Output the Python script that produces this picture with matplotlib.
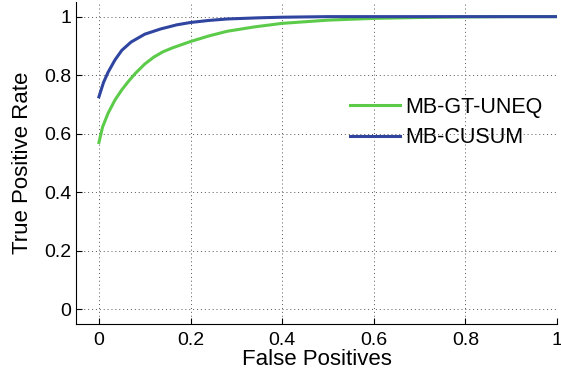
import matplotlib
matplotlib.use("Agg")
import matplotlib.pyplot as plt
import numpy as np

plt.rcParams['font.family'] = ['Liberation Sans', 'DejaVu Sans']

# Data
fp_green = [0.0, 0.008, 0.02, 0.035, 0.05, 0.065, 0.08, 0.1, 0.12, 0.14, 0.16, 0.2, 0.24, 0.28, 0.34, 0.4, 0.5, 0.6, 0.7, 0.8, 0.9, 1.0]
tpr_green = [0.57, 0.623, 0.67, 0.715, 0.75, 0.78, 0.807, 0.838, 0.862, 0.88, 0.893, 0.915, 0.934, 0.95, 0.965, 0.977, 0.988, 0.994, 0.997, 0.999, 1.0, 1.0]
fp_blue = [0.0, 0.01, 0.02, 0.035, 0.05, 0.07, 0.1, 0.135, 0.17, 0.2, 0.24, 0.28, 0.35, 0.4, 0.5, 0.6, 0.8, 1.0]
tpr_blue = [0.726, 0.775, 0.81, 0.852, 0.885, 0.913, 0.94, 0.958, 0.972, 0.98, 0.987, 0.992, 0.996, 0.998, 1.0, 1.0, 1.0, 1.0]
labels = ['MB-GT-UNEQ', 'MB-CUSUM']
xticks = [0, 0.2, 0.4, 0.6, 0.8, 1]
yticks = [0, 0.2, 0.4, 0.6, 0.8, 1]
ticklabels = ['0', '0.2', '0.4', '0.6', '0.8', '1']

fig = plt.figure(figsize=(5.61, 3.76), dpi=100)
ax = fig.add_axes([0.1355, 0.1383, 0.8574, 0.8564])

ax.plot(fp_green, tpr_green, color='#5ccb4a', lw=2.2, label=labels[0])
ax.plot(fp_blue, tpr_blue, color='#2f45a0', lw=2.2, label=labels[1])

ax.set_xlim(-0.05, 1.0)
ax.set_ylim(-0.05, 1.05)
ax.set_xticks(xticks)
ax.set_yticks(yticks)
ax.set_xticklabels(ticklabels)
ax.set_yticklabels(ticklabels)
ax.tick_params(direction='in', labelsize=14, length=4, width=0.8)
ax.tick_params(axis='x', pad=6)
ax.grid(True, linestyle=(0, (1, 3)), color='#555555', linewidth=0.7)
for s in ['top', 'right']:
    ax.spines[s].set_visible(False)
for s in ['left', 'bottom']:
    ax.spines[s].set_linewidth(0.8)

ax.set_xlabel('False Positives', fontsize=16, labelpad=0)
ax.set_ylabel('True Positive Rate', fontsize=16, labelpad=8)

ax.legend(loc='center left', bbox_to_anchor=(0.57, 0.626), frameon=False, fontsize=15.5,
          borderpad=0, borderaxespad=0, handlelength=2.3, handletextpad=0.25,
          labelspacing=0.45)

fig.savefig('out.png', dpi=100)
